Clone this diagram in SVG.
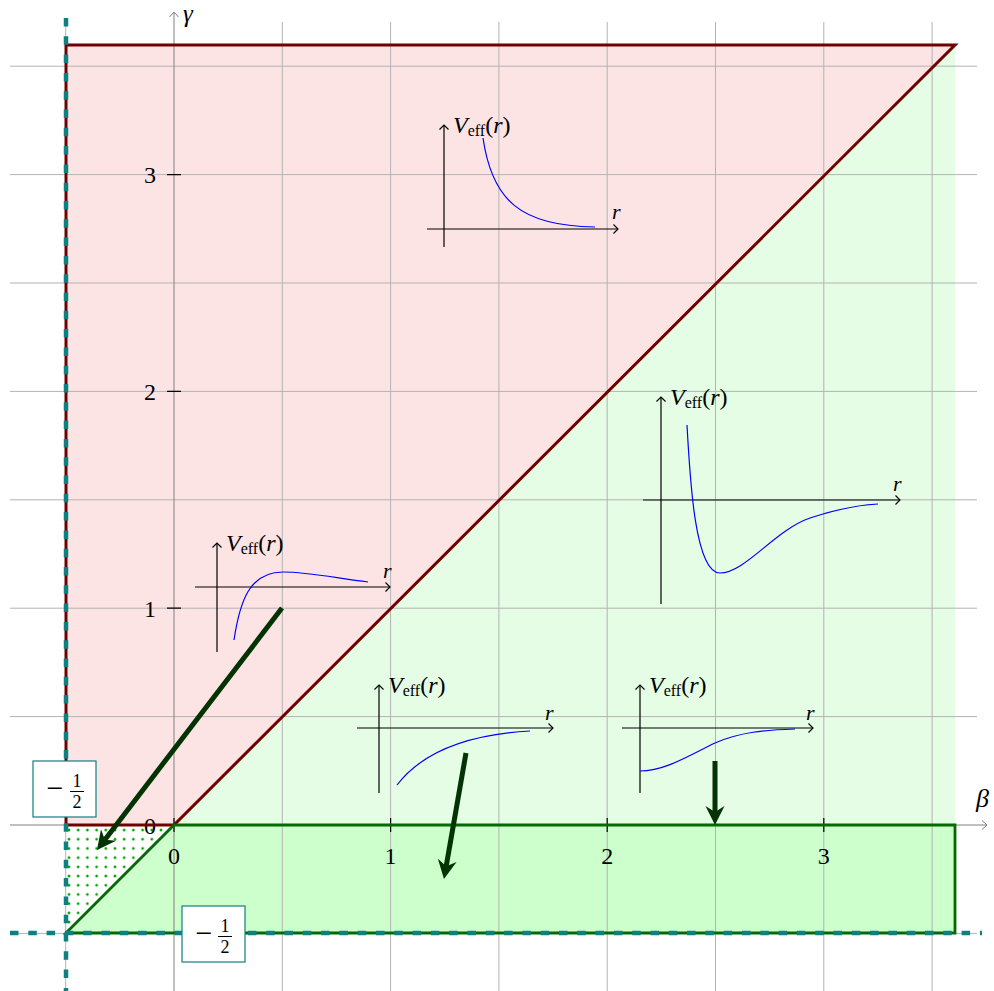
<svg xmlns="http://www.w3.org/2000/svg" width="994" height="991" viewBox="0 0 994 991">
<style>
.grid{stroke:#b3b3b3;stroke-width:1;fill:none}
.axis{stroke:#808080;stroke-width:1;fill:none}
.tick{stroke:#000;stroke-width:1.2}
.it{font-style:italic}
.ia{stroke:#000;stroke-width:1.2;fill:none}
.curve{stroke:#0000ff;stroke-width:1.2;fill:none}
.teal{stroke:#0e8080;stroke-width:4.5;stroke-dasharray:8.5 9.8;fill:none}
.box{fill:#fff;stroke:#0e8080;stroke-width:1.2}
.big{stroke:#033303;stroke-width:5;fill:none}
</style>
<defs>
<marker id="opengray" markerUnits="userSpaceOnUse" markerWidth="12" markerHeight="12" refX="0" refY="0" viewBox="-6 -6 12 12" orient="auto" overflow="visible">
<path d="M-5,-4.5 L0,0 L-5,4.5" fill="none" stroke="#808080" stroke-width="1"/>
</marker>
<marker id="openblk" markerUnits="userSpaceOnUse" markerWidth="12" markerHeight="12" refX="0" refY="0" viewBox="-6 -6 12 12" orient="auto" overflow="visible">
<path d="M-4.5,-4.5 L0,0 L-4.5,4.5" fill="none" stroke="#000" stroke-width="1.2"/>
</marker>
<marker id="stealth" markerUnits="userSpaceOnUse" markerWidth="30" markerHeight="30" refX="0" refY="0" viewBox="-10 -15 30 30" orient="auto" overflow="visible">
<path d="M13,0 L-6,-9.5 L0,0 L-6,9.5 Z" fill="#033303"/>
</marker>
<pattern id="dots" patternUnits="userSpaceOnUse" x="64.4" y="825.4" width="9.2" height="9.2">
<circle cx="4.6" cy="4.6" r="1.4" fill="#00a000"/>
</pattern>
</defs>

<g id="regions">
<polygon points="66,45 955,45 174,825 66,825" fill="#fde4e4"/>
<polygon points="174,825 955,45 955,825" fill="#e5fde5"/>
<polygon points="66,933 174,825 955,825 955,933" fill="#ccffcc"/>
<polygon points="66,825 174,825 66,933" fill="#fff"/>
<polygon points="66,825 174,825 66,933" fill="url(#dots)"/>
</g>

<g id="grid">
<path class="grid" d="M65.7,22V991M282.3,22V991M390.6,22V991M498.9,22V991M607.2,22V991M715.5,22V991M823.8,22V991M932.1,22V991"/>
<path class="grid" d="M10,933.4H977M10,716.6H977M10,608.2H977M10,499.8H977M10,391.4H977M10,283H977M10,174.6H977M10,66.2H977"/>
</g>

<g font-family="Liberation Serif, DejaVu Serif, serif" fill="#000">
<g id="axes">
<line class="axis" x1="10" y1="825" x2="987" y2="825" marker-end="url(#opengray)"/>
<line class="axis" x1="174" y1="991" x2="174" y2="12" marker-end="url(#opengray)"/>
<text class="it" x="976" y="807" font-size="26">β</text>
<text class="it" x="183" y="22" font-size="25">γ</text>
<path class="tick" d="M174,818V832M390.6,818V832M607.2,818V832M823.8,818V832M167,825H181M167,608.2H181M167,391.4H181M167,174.6H181"/>
<text x="174" y="864" text-anchor="middle" font-size="24">0</text>
<text x="390.6" y="864" text-anchor="middle" font-size="24">1</text>
<text x="607.2" y="864" text-anchor="middle" font-size="24">2</text>
<text x="823.8" y="864" text-anchor="middle" font-size="24">3</text>
<text x="156" y="834" text-anchor="end" font-size="24">0</text>
<text x="156" y="617" text-anchor="end" font-size="24">1</text>
<text x="156" y="400" text-anchor="end" font-size="24">2</text>
<text x="156" y="183" text-anchor="end" font-size="24">3</text>
</g>

<g id="borders">
<polyline points="66,825 66,45 955,45 174,825 66,825" fill="none" stroke="#700000" stroke-width="3" stroke-linejoin="miter"/>
<polygon points="66,933 174,825 955,825 955,933" fill="none" stroke="#066906" stroke-width="2.8"/>
<line class="teal" x1="66" y1="18" x2="66" y2="991"/>
<line class="teal" x1="10" y1="933" x2="982" y2="933"/>
</g>

<g id="label-half-left">
<rect class="box" x="33" y="761" width="63" height="56"/>
<text x="55" y="798" text-anchor="middle" font-size="30">−</text>
<text x="77" y="787" text-anchor="middle" font-size="18">1</text>
<line x1="70" y1="791.5" x2="84" y2="791.5" stroke="#000" stroke-width="1"/>
<text x="77" y="808" text-anchor="middle" font-size="18">2</text>
</g>
<g id="label-half-bottom">
<rect class="box" x="182" y="906" width="63" height="56"/>
<text x="204" y="943" text-anchor="middle" font-size="30">−</text>
<text x="225" y="932" text-anchor="middle" font-size="18">1</text>
<line x1="218" y1="936.5" x2="232" y2="936.5" stroke="#000" stroke-width="1"/>
<text x="225" y="953" text-anchor="middle" font-size="18">2</text>
</g>

<g id="inset-top">
<line class="ia" x1="427" y1="229" x2="618" y2="229" marker-end="url(#openblk)"/>
<line class="ia" x1="444" y1="247" x2="444" y2="125" marker-end="url(#openblk)"/>
<path class="curve" d="M483,138 C492,200 520,226 595,227"/>
<text x="453" y="133" font-size="24"><tspan class="it">V</tspan><tspan font-size="16" dy="3">eff</tspan><tspan dy="-3">(</tspan><tspan class="it">r</tspan>)</text>
<text class="it" x="612" y="219" font-size="22">r</text>
</g>

<g id="inset-left">
<line class="ia" x1="195" y1="587" x2="390" y2="587" marker-end="url(#openblk)"/>
<line class="ia" x1="217" y1="652" x2="217" y2="543" marker-end="url(#openblk)"/>
<path class="curve" d="M234,640 C240,600 250,572 283,572 C310,572 340,579 368,582"/>
<text x="226" y="551" font-size="24"><tspan class="it">V</tspan><tspan font-size="16" dy="3">eff</tspan><tspan dy="-3">(</tspan><tspan class="it">r</tspan>)</text>
<text class="it" x="383" y="578" font-size="22">r</text>
</g>

<g id="inset-right">
<line class="ia" x1="643" y1="500" x2="900" y2="500" marker-end="url(#openblk)"/>
<line class="ia" x1="661" y1="604" x2="661" y2="397" marker-end="url(#openblk)"/>
<path class="curve" d="M687,425 C690,480 695,573 720,573 C745,573 775,530 810,518 C840,508 860,505 878,504"/>
<text x="670" y="405" font-size="24"><tspan class="it">V</tspan><tspan font-size="16" dy="3">eff</tspan><tspan dy="-3">(</tspan><tspan class="it">r</tspan>)</text>
<text class="it" x="893" y="491" font-size="22">r</text>
</g>

<g id="inset-mid">
<line class="ia" x1="357" y1="728" x2="553" y2="728" marker-end="url(#openblk)"/>
<line class="ia" x1="379" y1="793" x2="379" y2="685" marker-end="url(#openblk)"/>
<path class="curve" d="M397,785 C420,755 460,735 530,731"/>
<text x="388" y="693" font-size="24"><tspan class="it">V</tspan><tspan font-size="16" dy="3">eff</tspan><tspan dy="-3">(</tspan><tspan class="it">r</tspan>)</text>
<text class="it" x="545" y="720" font-size="22">r</text>
</g>

<g id="inset-br">
<line class="ia" x1="622" y1="728" x2="813" y2="728" marker-end="url(#openblk)"/>
<line class="ia" x1="640" y1="793" x2="640" y2="685" marker-end="url(#openblk)"/>
<path class="curve" d="M640,771 C665,771 690,755 715,743 C740,732 765,730 795,729"/>
<text x="649" y="693" font-size="24"><tspan class="it">V</tspan><tspan font-size="16" dy="3">eff</tspan><tspan dy="-3">(</tspan><tspan class="it">r</tspan>)</text>
<text class="it" x="806" y="720" font-size="22">r</text>
</g>
</g>

<g id="connectors">
<line class="big" x1="282" y1="608" x2="104.9" y2="839.7" marker-end="url(#stealth)"/>
<line class="big" x1="466" y1="753" x2="446.2" y2="866.2" marker-end="url(#stealth)"/>
<line class="big" x1="715" y1="761" x2="715" y2="812" marker-end="url(#stealth)"/>
</g>
</svg>
